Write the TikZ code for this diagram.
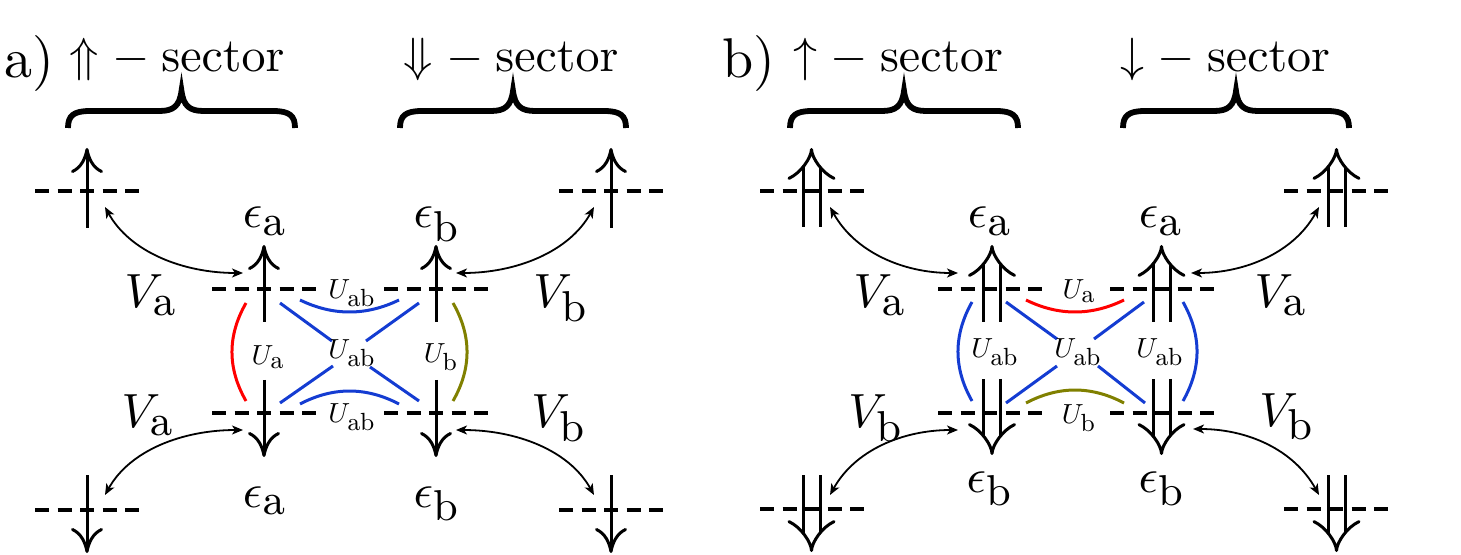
\RequirePackage{fix-cm}
\documentclass[tikz,border=0pt]{standalone}
\usepackage{graphicx}
\usetikzlibrary{arrows.meta}
\DeclareMathSizes{10}{10}{9}{7}
\definecolor{ublue}{RGB}{20,60,210}
\definecolor{uolive}{RGB}{128,128,0}
\newcommand{\blab}[1]{\scalebox{2.4}{$#1$}}
\newcommand{\slab}[1]{\scalebox{1.38}{$#1$}}
\newcommand{\hdr}[1]{\scalebox{2.4}{$\mathord{#1}\mkern5mu{-}\mkern4.5mu\mathrm{sector}$}}
\newcommand{\plabel}[1]{\scalebox{2.8}{#1)}}
\tikzset{
  lab/.style={inner sep=0pt, font=\fontsize{10}{12}\selectfont},
  sarr/.style={line width=1.5pt, -{Computer Modern Rightarrow[length=12.5pt,width=16pt,line width=1.5pt]}},
  darr/.style={double, double distance=7pt, line width=1.5pt, -{Implies[length=16pt,width=27pt]}},
  level/.style={line width=2pt, dash pattern=on 7pt off 4.25pt},
  hop/.style={line width=0.9pt, {Stealth[length=5.5pt,width=4.5pt,inset=1.5pt]}-{Stealth[length=5.5pt,width=4.5pt,inset=1.5pt]}},
  brc/.style={line width=2.9pt},
  ucol/.style={line width=1.5pt},
}
\begin{document}
\begin{tikzpicture}[x=0.5pt, y=-0.5pt]
\path[use as bounding box] (0,0) rectangle (1461,555);

% ---------------- headers ----------------
\node[lab, anchor=base west] (la) at (4,78) {\plabel{a}};
\node[lab, anchor=base west] (ha1) at (69,72) {\hdr{\Uparrow}};
\node[lab, anchor=base west] (ha2) at (403,72) {\hdr{\Downarrow}};
\node[lab, anchor=base west] (lb) at (722,78) {\plabel{b}};
\node[lab, anchor=base west] (hb1) at (793,72) {\hdr{\uparrow}};
\node[lab, anchor=base west] (hb2) at (1120,72) {\hdr{\downarrow}};

% braces
\foreach \xl/\xr in {68/295, 400/626, 790/1018, 1123/1349}{
  \pgfmathsetmacro{\xc}{(\xl+\xr)/2}
  \draw[brc] (\xl,128) .. controls (\xl,116) and (\xl+5,111) .. (\xl+22,111)
    -- (\xc-22,111) .. controls (\xc-8,111) and (\xc-2,106) .. (\xc,91)
    .. controls (\xc+2,106) and (\xc+8,111) .. (\xc+22,111)
    -- (\xr-22,111) .. controls (\xr-5,111) and (\xr,116) .. (\xr,128);
}

% ---------------- panel a ----------------
\draw[sarr] (87,228) -- (87,148);
\draw[sarr] (611,228) -- (611,148);
\draw[sarr] (87,475) -- (87,553);
\draw[sarr] (611,475) -- (611,553);
\draw[sarr] (264,322) -- (264,245);
\draw[sarr] (436,322) -- (436,245);
\draw[sarr] (264,380) -- (264,457);
\draw[sarr] (436,380) -- (436,457);
\draw[level] (35,191) -- (139,191);
\draw[level] (559,191) -- (663,191);
\draw[level] (35,510) -- (139,510);
\draw[level] (559,510) -- (663,510);
\draw[level] (212,289) -- (316,289);
\draw[level] (384,289) -- (488,289);
\draw[level] (212,413) -- (316,413);
\draw[level] (384,413) -- (488,413);
\coordinate (aO1) at (105,207); \coordinate (aI1) at (243,273);
\coordinate (aO2) at (594,207); \coordinate (aI2) at (456,273);
\coordinate (aO3) at (105,495); \coordinate (aI3) at (243,430);
\coordinate (aO4) at (594,495); \coordinate (aI4) at (456,430);
\draw[hop] (aO1) .. controls +(25,45) and +(-60,0) .. (aI1);
\draw[hop] (aO2) .. controls +(-25,45) and +(60,0) .. (aI2);
\draw[hop] (aO3) .. controls +(25,-45) and +(-60,0) .. (aI3);
\draw[hop] (aO4) .. controls +(-25,-45) and +(60,0) .. (aI4);
\draw[ucol, red] (246,303) .. controls (227.3,335.7) and (227.3,368.3) .. (246,401);
\draw[ucol, uolive] (453,303) .. controls (471.7,335.7) and (471.7,368.3) .. (453,401);
\draw[ucol, ublue] (300,300) .. controls (333,316) and (366,316) .. (399,300);
\draw[ucol, ublue] (300,404) .. controls (333,386.7) and (366,386.7) .. (399,404);
\draw[ucol, ublue] (280,303) -- (332,341);
\draw[ucol, ublue] (366,341) -- (419,303);
\draw[ucol, ublue] (280,403) -- (333,366);
\draw[ucol, ublue] (370,367) -- (419,401);
\node[lab, anchor=base] (ea1) at (265,228) {\blab{\epsilon_{\mathrm{a}}}};
\node[lab, anchor=base] (eb1) at (437,228) {\blab{\epsilon_{\mathrm{b}}}};
\node[lab, anchor=base] (ea2) at (265,507) {\blab{\epsilon_{\mathrm{a}}}};
\node[lab, anchor=base] (eb2) at (437,507) {\blab{\epsilon_{\mathrm{b}}}};
\node[lab, anchor=base] (va1) at (151,308) {\blab{V_{\mathrm{a}}}};
\node[lab, anchor=base] (va2) at (148,428) {\blab{V_{\mathrm{a}}}};
\node[lab, anchor=base] (vb1) at (561,308) {\blab{V_{\mathrm{b}}}};
\node[lab, anchor=base] (vb2) at (559,428) {\blab{V_{\mathrm{b}}}};
\node[lab] (ua) at (268,357) {\slab{U_{\mathrm{a}}}};
\node[lab] (uab1) at (352,353) {\slab{U_{\mathrm{ab}}}};
\node[lab] (ub) at (441,357) {\slab{U_{\mathrm{b}}}};
\node[lab] (uab2) at (352,293) {\slab{U_{\mathrm{ab}}}};
\node[lab] (uab3) at (352,417) {\slab{U_{\mathrm{ab}}}};

% ---------------- panel b ----------------
\draw[darr] (811.5,227) -- (811.5,148);
\draw[darr] (1336.5,227) -- (1336.5,148);
\draw[darr] (811.5,475) -- (811.5,552);
\draw[darr] (1336.5,475) -- (1336.5,552);
\draw[darr] (992,322) -- (992,245);
\draw[darr] (1161.5,322) -- (1161.5,245);
\draw[darr] (992,379) -- (992,455);
\draw[darr] (1161.5,379) -- (1161.5,455);
\draw[level] (760,191) -- (864,191);
\draw[level] (1284,191) -- (1388,191);
\draw[level] (760,509) -- (864,509);
\draw[level] (1284,509) -- (1388,509);
\draw[level] (938,289) -- (1042,289);
\draw[level] (1110,289) -- (1214,289);
\draw[level] (938,413) -- (1042,413);
\draw[level] (1110,413) -- (1214,413);
\coordinate (bO1) at (830,207); \coordinate (bI1) at (958,273);
\coordinate (bO2) at (1319,207); \coordinate (bI2) at (1191,273);
\coordinate (bO3) at (830,495); \coordinate (bI3) at (958,430);
\coordinate (bO4) at (1319,495); \coordinate (bI4) at (1193,429);
\draw[hop] (bO1) .. controls +(25,45) and +(-55,0) .. (bI1);
\draw[hop] (bO2) .. controls +(-25,45) and +(55,0) .. (bI2);
\draw[hop] (bO3) .. controls +(25,-45) and +(-55,0) .. (bI3);
\draw[hop] (bO4) .. controls +(-25,-45) and +(55,0) .. (bI4);
\draw[ucol, ublue] (972,302) .. controls (953.3,335.3) and (953.3,368) .. (972,401);
\draw[ucol, ublue] (1183,302) .. controls (1201.7,335.3) and (1201.7,368) .. (1183,401);
\draw[ucol, red] (1026,300) .. controls (1058.7,316) and (1091.3,316) .. (1124,300);
\draw[ucol, uolive] (1026,403) .. controls (1058.7,385.7) and (1091.3,385.7) .. (1124,403);
\draw[ucol, ublue] (1006,302) -- (1057,339);
\draw[ucol, ublue] (1094,339) -- (1144,302);
\draw[ucol, ublue] (1006,403) -- (1057,366);
\draw[ucol, ublue] (1098,366) -- (1145,403);
\node[lab, anchor=base] (ea3) at (990,228) {\blab{\epsilon_{\mathrm{a}}}};
\node[lab, anchor=base] (ea4) at (1161,228) {\blab{\epsilon_{\mathrm{a}}}};
\node[lab, anchor=base] (eb3) at (990,492) {\blab{\epsilon_{\mathrm{b}}}};
\node[lab, anchor=base] (eb4) at (1162,492) {\blab{\epsilon_{\mathrm{b}}}};
\node[lab, anchor=base] (va3) at (880,308) {\blab{V_{\mathrm{a}}}};
\node[lab, anchor=base] (vb3) at (876,428) {\blab{V_{\mathrm{b}}}};
\node[lab, anchor=base] (va4) at (1281,308) {\blab{V_{\mathrm{a}}}};
\node[lab, anchor=base] (vb4) at (1287,426) {\blab{V_{\mathrm{b}}}};
\node[lab] (ua2) at (1079,291) {\slab{U_{\mathrm{a}}}};
\node[lab] (uab4) at (995,352) {\slab{U_{\mathrm{ab}}}};
\node[lab] (uab5) at (1078,352) {\slab{U_{\mathrm{ab}}}};
\node[lab] (uab6) at (1160,352) {\slab{U_{\mathrm{ab}}}};
\node[lab] (ub2) at (1079,418) {\slab{U_{\mathrm{b}}}};
\end{tikzpicture}
\end{document}
